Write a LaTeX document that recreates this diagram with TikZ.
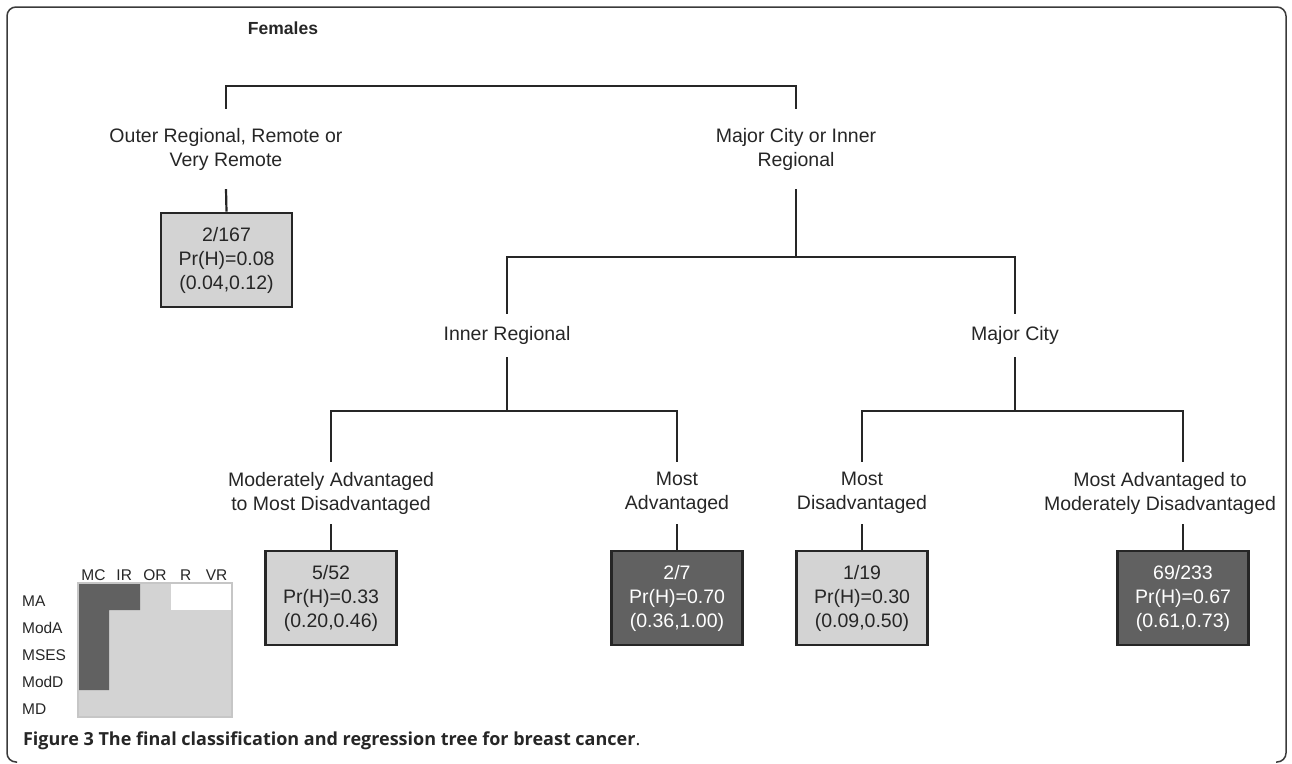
\documentclass[tikz,border=0pt]{standalone}
\usepackage{fontspec}
\setmainfont{Liberation Sans}
\newfontfamily\capfont{Open Sans}
\usetikzlibrary{positioning}
\definecolor{lightbox}{HTML}{D3D3D3}
\definecolor{darkbox}{HTML}{616161}
\definecolor{inkgray}{HTML}{262626}
\definecolor{framegray}{HTML}{3A3A3A}
\definecolor{gridline}{HTML}{C6C6C6}

\begin{document}
\begin{tikzpicture}[x=1pt,y=-1pt,line width=2.2pt,draw=inkgray,
  split/.style={inner sep=0pt,align=center,text=inkgray,font=\fontsize{19.5}{24}\selectfont},
  leaf/.style={draw=inkgray,line width=2.6pt,minimum width=131pt,minimum height=94pt,
    inner sep=0pt,align=center,font=\fontsize{19.5}{24}\selectfont},
  leaflight/.style={leaf,fill=lightbox,text=inkgray},
  leafdark/.style={leaf,fill=darkbox,text=white},
  legend/.style={inner sep=0pt,text=inkgray,font=\fontsize{15.5}{18}\selectfont}]
  \useasboundingbox (0,0) rectangle (1292,763);
  % frame, open at the bottom
  \draw[framegray,line width=1.5pt,rounded corners=9pt]
        (17,762) -- (7,762) -- (7,7) -- (1286,7) -- (1286,762) -- (1276,762);
  \node[inner sep=0pt,text=inkgray,font=\bfseries\fontsize{17.5}{20}\selectfont] (title) at (283,28) {Females};
  % splits
  \node[split,minimum height=78pt] (lOR) at (226,149) {Outer Regional, Remote or\\Very Remote};
  \node[split,minimum height=78pt] (lMC) at (796,149) {Major City or Inner\\Regional};
  \node[split,minimum height=41pt] (lIR) at (507,335.5) {Inner Regional};
  \node[split,minimum height=41pt] (lMCy) at (1015,335.5) {Major City};
  \node[split,minimum height=60pt] (lModAMD) at (331,493) {Moderately Advantaged\\to Most Disadvantaged};
  \node[split,minimum height=60pt] (lMA) at (677,493) {Most\\Advantaged};
  \node[split,minimum height=60pt] (lMD) at (862,493) {Most\\Disadvantaged};
  \node[split,minimum height=60pt] (lMAModD) at (1160,493) {Most Advantaged to\\Moderately Disadvantaged};
  % leaves
  \node[leaflight] (bOR) at (226.5,260) {2/167\\Pr(H)=0.08\\(0.04,0.12)};
  \node[leaflight] (bModAMD) at (331,598) {5/52\\Pr(H)=0.33\\(0.20,0.46)};
  \node[leafdark] (bMA) at (677,598) {2/7\\Pr(H)=0.70\\(0.36,1.00)};
  \node[leaflight] (bMD) at (862,598) {1/19\\Pr(H)=0.30\\(0.09,0.50)};
  \node[leafdark] (bMAModD) at (1183,598) {69/233\\Pr(H)=0.67\\(0.61,0.73)};
  % branches
  \draw (lOR.north) -- ++(0,-23) -| (lMC.north);
  \draw (lOR.south) -- (bOR.north);
  \draw (lMC.south) -- ++(0,68) coordinate (jMC);
  \draw (lIR.north) |- (jMC) -| (lMCy.north);
  \draw (lIR.south) -- ++(0,54) coordinate (jIR);
  \draw (lModAMD.north) |- (jIR) -| (lMA.north);
  \draw (lMCy.south) -- ++(0,54) coordinate (jMCy);
  \draw (lMD.north) |- (jMCy) -| (bMAModD.north |- lMAModD.north);
  \foreach \l/\b in {lModAMD/bModAMD,lMA/bMA,lMD/bMD}
     \draw (\l.south) -- (\b.north);
  \draw (bMAModD.north |- lMAModD.south) -- (bMAModD.north);
  % legend grid
  \fill[lightbox] (78,583) rectangle (232,717);
  \fill[darkbox] (78,583) rectangle (109,690) (109,583) rectangle (140,610);
  \fill[white] (171,583) rectangle (232,610);
  \draw[gridline,line width=1.2pt] (78,583) rectangle (232,717);
  \foreach \c [count=\i] in {MC,IR,OR,R,VR}
     \node[legend,anchor=base] (h\c) at ({78+30.8*\i-15.4},580) {\c};
  \foreach \r [count=\i] in {MA,ModA,MSES,ModD,MD}
     \node[legend,anchor=base west] (r\r) at (21,{580+26.8*\i}) {\r};
  % caption
  \node[anchor=base west,inner sep=0pt,text=inkgray,font=\capfont\fontsize{18}{21}\selectfont] (cap) at (22,745)
     {\bfseries Figure 3 The final classification and regression tree for breast cancer\mdseries.};
\end{tikzpicture}
\end{document}
